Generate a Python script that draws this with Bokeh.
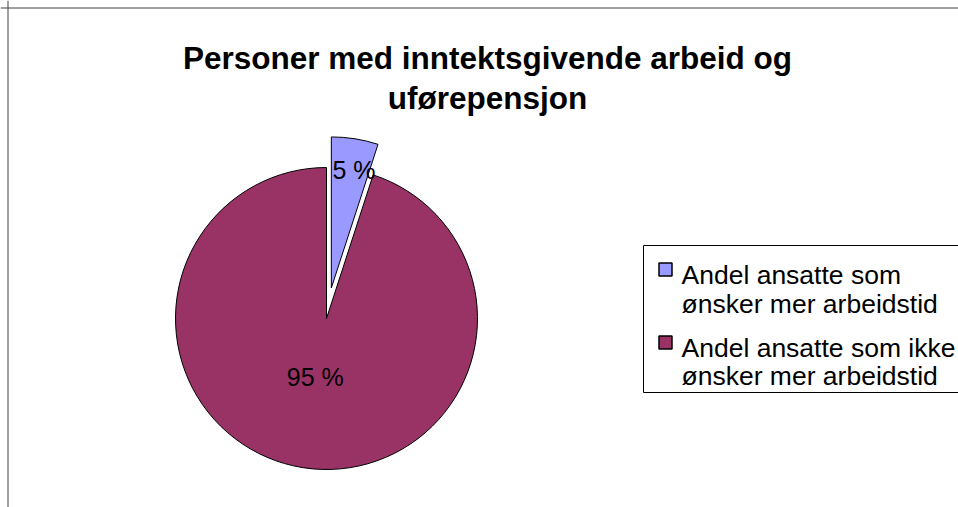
import numpy as np
from bokeh.plotting import figure
from bokeh.models import Range1d, Span, ColumnDataSource
from bokeh.core.properties import value
from bokeh.embed import file_html
from bokeh.resources import INLINE

# ---- data ----
title_lines = ["Personer med inntektsgivende arbeid og", "uførepensjon"]
categories = ["Andel ansatte som ønsker mer arbeidstid",
              "Andel ansatte som ikke ønsker mer arbeidstid"]
legend_line1 = ["Andel ansatte som", "Andel ansatte som ikke"]
legend_line2 = ["ønsker mer arbeidstid", "ønsker mer arbeidstid"]
shares = [5, 95]
labels = ["5 %", "95 %"]
colors = ["#9999FF", "#993366"]

# ---- layout (pixels) ----
W, H = 958, 507
FONT = value("Liberation Sans")
cx0, cy0, R = 326, 189, 151
explode = np.array([0.205, 0.0])
label_r = np.array([0.79, 0.39])
label_dx = [4, -2]

p = figure(width=W, height=H, x_range=Range1d(0, W), y_range=Range1d(0, H),
           output_backend="svg", toolbar_location=None, min_border=0,
           x_axis_location=None, y_axis_location=None)
p.grid.visible = False
p.outline_line_color = None
p.background_fill_color = "white"
p.border_fill_color = "white"

# chart frame (left and top edges visible in the window)
p.add_layout(Span(location=7.5, dimension="height", line_color="#404040", line_width=1))
p.add_layout(Span(location=H - 7.5, dimension="width", line_color="#404040", line_width=1))

# ---- pie ----
vals = np.array(shares, dtype=float)
cum = np.concatenate([[0.0], np.cumsum(vals / vals.sum())]) * 360.0  # clockwise from top
start = np.radians(90.0 - cum[1:])
end = np.radians(90.0 - cum[:-1])
mid = np.radians((cum[:-1] + cum[1:]) / 2.0)
cx = cx0 + explode * R * np.sin(mid)
cy = cy0 + explode * R * np.cos(mid)

src = ColumnDataSource(dict(x=cx, y=cy, start=start, end=end, color=colors,
                            lx=cx + label_r * R * np.sin(mid),
                            ly=cy + label_r * R * np.cos(mid),
                            dx=label_dx, label=labels))
p.wedge(x="x", y="y", radius=R, start_angle="start", end_angle="end",
        direction="anticlock", fill_color="color",
        line_color="black", line_width=1, source=src)
p.text(x="lx", y="ly", text="label", source=src, x_offset="dx", text_font=FONT,
       text_font_size="25px", text_color="black", text_align="center",
       text_baseline="middle")

# ---- title ----
p.text(x=[487, 487], y=[450, 410], text=title_lines, text_font=FONT,
       text_font_size="31.5px", text_font_style="bold", text_color="black",
       text_align="center", text_baseline="alphabetic")

# ---- legend ----
p.quad(left=[643], right=[W + 20], bottom=[115], top=[262],
       fill_color="white", line_color="black", line_width=1)
p.rect(x=[665, 665], y=[238, 165], width=13, height=13, fill_color=colors,
       line_color="black", line_width=1.5)
p.text(x=[681, 681], y=[233, 160], text=legend_line1, text_font=FONT,
       text_font_size="26.5px", text_color="black", text_align="left",
       text_baseline="alphabetic")
p.text(x=[681, 681], y=[204, 132], text=legend_line2, text_font=FONT,
       text_font_size="26.5px", text_color="black", text_align="left",
       text_baseline="alphabetic")

open("out.html", "w").write(file_html(p, INLINE))
